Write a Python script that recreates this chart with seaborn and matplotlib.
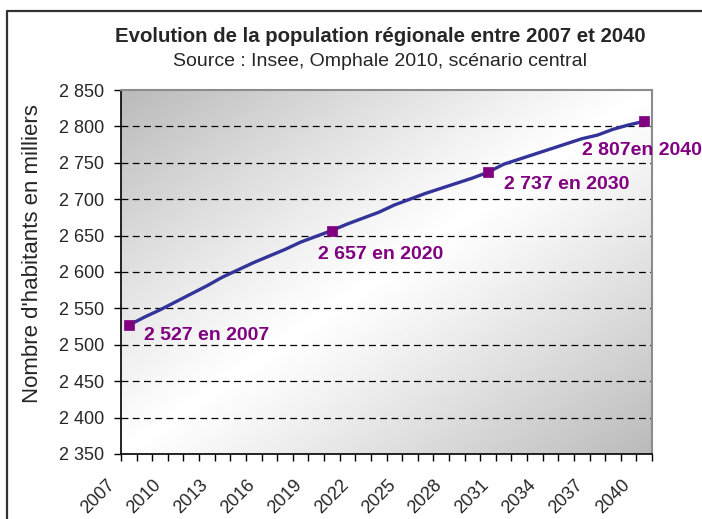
import numpy as np
import matplotlib
matplotlib.use("Agg")
import matplotlib.pyplot as plt
import seaborn as sns
from matplotlib.ticker import FixedLocator, FuncFormatter
from matplotlib.transforms import ScaledTranslation
from matplotlib.lines import Line2D

# Regional population projection (thousands of inhabitants)
years = list(range(2007, 2041))
population = [2527, 2538, 2548, 2559, 2570, 2581, 2593, 2603, 2613, 2622,
              2631, 2641, 2649, 2657, 2666, 2674, 2682, 2692, 2700, 2708,
              2715, 2722, 2729, 2737, 2748, 2755, 2762, 2769, 2776, 2783,
              2788, 2796, 2802, 2807]

# Highlighted milestones
milestone_years = [2007, 2020, 2030, 2040]
milestone_values = [2527, 2657, 2737, 2807]
milestone_labels = ["2 527 en 2007", "2 657 en 2020", "2 737 en 2030", "2 807en 2040"]

tick_years = years[::3]
y_ticks = list(range(2350, 2851, 50))

title = "Evolution de la population régionale entre 2007 et 2040"
subtitle = "Source : Insee, Omphale 2010, scénario central"
y_label = "Nombre d'habitants en milliers"

sns.set_theme(style="white")
plt.rcParams["font.family"] = ["Liberation Sans", "DejaVu Sans"]

fig = plt.figure(figsize=(7.02, 5.19), dpi=100)
fig.patch.set_facecolor("white")
ax = fig.add_axes([121 / 702, 1 - 454 / 519, 531 / 702, 364 / 519])

# Diagonal grey gradient behind the plot area
n = 300
u, v = np.meshgrid(np.linspace(0, 1, n), np.linspace(1, 0, n))
shade = 1 - 0.27 * np.abs(u - v) ** 1.1
ax.imshow(shade, cmap="gray", vmin=0, vmax=1, extent=[0, 1, 0, 1],
          transform=ax.transAxes, aspect="auto", zorder=0, interpolation="bilinear")

ax.set_xlim(2006.5, 2040.5)
ax.set_ylim(2350, 2850)

# Dashed horizontal gridlines
for yv in y_ticks[1:-1]:
    ax.axhline(yv, color="black", linestyle=(0, (5.5, 3.5)), linewidth=0.9, zorder=1)

sns.lineplot(x=years, y=population, color="#333399", linewidth=2.4, ax=ax, zorder=3)
sns.scatterplot(x=milestone_years, y=milestone_values, marker="s", s=55,
                color="#800080", edgecolor="#800080", linewidth=0.5, ax=ax, zorder=4)

offsets = [(15, -10.5), (-14, -23.5), (16, -12), (-62.5, -29.5)]
for yr, val, lab, off in zip(milestone_years, milestone_values, milestone_labels, offsets):
    ax.annotate(lab, xy=(yr, val), xytext=off, textcoords="offset pixels",
                ha="left", va="center", fontsize=14, fontweight="bold",
                color="#800080", zorder=5, annotation_clip=False)

# Axes styling
for side in ["top", "right"]:
    ax.spines[side].set_color("#8c8c8c")
    ax.spines[side].set_linewidth(1.5)
for side in ["left", "bottom"]:
    ax.spines[side].set_color("black")
    ax.spines[side].set_linewidth(1.2)

ax.yaxis.set_major_locator(FixedLocator(y_ticks))
ax.yaxis.set_major_formatter(FuncFormatter(lambda val, pos: f"{int(val):,}".replace(",", " ")))
ax.tick_params(axis="y", which="major", direction="out", length=5, width=1,
               color="black", labelsize=13, pad=7, left=True)

ax.xaxis.set_major_locator(FixedLocator(tick_years))
ax.xaxis.set_minor_locator(FixedLocator(np.arange(2006.5, 2041, 1)))
ax.set_xticks(tick_years, [str(t) for t in tick_years])
ax.tick_params(axis="x", which="major", length=0, labelsize=13, pad=6)
ax.tick_params(axis="x", which="minor", direction="out", length=5, width=1,
               color="black", bottom=True)

ax.set_xlabel("")
ax.set_ylabel(y_label, fontsize=16)
ax.yaxis.set_label_coords(-78 / 531, (454 - 254) / 364)

fig.text(380 / 702, 1 - 37 / 519, title, ha="center", va="center",
         fontsize=14.7, fontweight="bold")
fig.text(380 / 702, 1 - 61 / 519, subtitle, ha="center", va="center", fontsize=14)

# Outer chart frame (left and top edges visible)
fig.add_artist(Line2D([7 / 702, 7 / 702, 1.01], [-0.01, 1 - 11 / 519, 1 - 11 / 519],
                      transform=fig.transFigure, color="#333333", linewidth=1.6))

# Rotated year labels, nudged down-left of each category
fig.canvas.draw()
shift = ScaledTranslation(-0.23, -0.14, fig.dpi_scale_trans)
for lab in ax.get_xticklabels():
    lab.set_rotation(45)
    lab.set_ha("right")
    lab.set_va("top")
    lab.set_rotation_mode("anchor")
    lab.set_transform(lab.get_transform() + shift)

fig.savefig("out.png", dpi=100)
